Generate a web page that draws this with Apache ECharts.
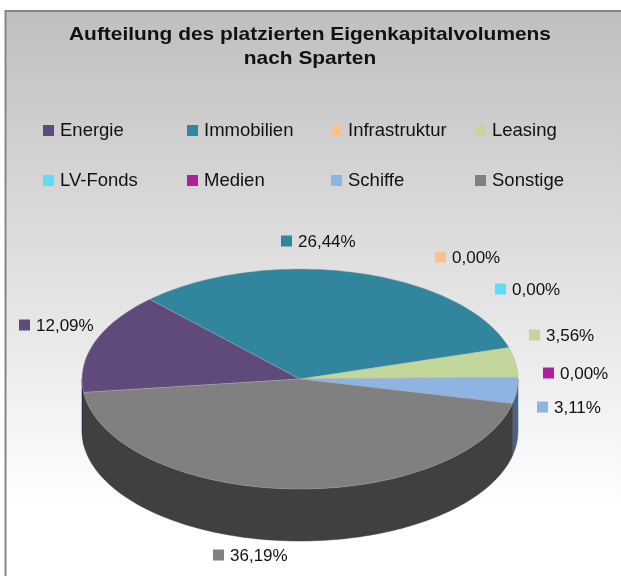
<!DOCTYPE html>
<html><head><meta charset="utf-8">
<style>html,body{margin:0;padding:0;background:#fff}#c{width:621px;height:576px}</style>
<script src="https://cdn.jsdelivr.net/npm/echarts@6/dist/echarts.min.js"></script>
</head><body><div id="c"></div>
<script>
const titleText = 'Aufteilung des platzierten Eigenkapitalvolumens\nnach Sparten';
const categories = ['Energie','Immobilien','Infrastruktur','Leasing','LV-Fonds','Medien','Schiffe','Sonstige'];
const values = [12.09,26.44,0,3.56,0,0,3.11,36.19];
const colors = ['#604A7B','#31859C','#FCC08C','#C3D69B','#5FDCFC','#B01F9C','#8DB4E2','#808080'];
const wallColors = ['#33264A','#1F5663','#9A7552','#7A8760','#3A8BA0','#6E1462','#4A6283','#404040'];
const labelAnchors = [[19,326],[281,242],[435,258],[529,336],[495,290],[543,374],[537,408],[213,556]];
const legendAnchors = [[43,129],[187,129],[331,129],[475,129],[43,179],[187,179],[331,179],[475,179]];
const startAngle = 263; // degrees clockwise from 12 o'clock
const cx = 300, cy = 379, rx = 218, ry = 110, depth = 52;

const total = values.reduce((a,b)=>a+b,0);
const fmt = v => v.toFixed(2).replace('.',',') + '%';
function pt(deg, dy){ const a = deg*Math.PI/180; return [cx+rx*Math.sin(a), cy-ry*Math.cos(a)+(dy||0)]; }
function arc(a0,a1,dy){ const n=Math.max(1,Math.ceil(Math.abs(a1-a0)/1.5)), out=[];
  for(let i=0;i<=n;i++) out.push(pt(a0+(a1-a0)*i/n,dy)); return out; }

let acc = startAngle;
const spans = values.map(v=>{ const s=acc; acc += v/total*360; return [s,acc]; });

function wallChildren(a0,a1,fill){
  const out=[];
  [[90,270],[450,630]].forEach(([lo,hi])=>{
    const s=Math.max(a0,lo), e=Math.min(a1,hi);
    if(e>s){
      const top=arc(s,e,0), bot=arc(e,s,depth);
      out.push({type:'polygon',shape:{points:top.concat(bot)},style:{fill,stroke:fill,lineWidth:.5}});
    }
  });
  return out;
}

const series = categories.map((name,i)=>({
  name, type:'custom', coordinateSystem:'none',
  itemStyle:{color:colors[i]},
  data:[[values[i]]],
  renderItem:(params,api)=>{
    const [a0,a1]=spans[i];
    const children = wallChildren(a0,a1,wallColors[i]);
    if(api.value(0)>0){
      children.push({type:'polygon',shape:{points:[[cx,cy]].concat(arc(a0,a1,0))},
        style:{fill:colors[i],stroke:'#a8a8a8',lineWidth:.4}});
    }
    const [lx,ly]=labelAnchors[i];
    children.push({type:'rect',z2:50,shape:{x:lx,y:ly-6.5,width:11,height:11},style:{fill:colors[i]}});
    children.push({type:'text',z2:50,x:lx+17,y:ly,style:{text:fmt(api.value(0)),fill:'#111',
      font:'17px "Liberation Sans", Arial, sans-serif',verticalAlign:'middle'}});
    return {type:'group',children};
  }
}));

const legends = categories.map((name,i)=>({
  data:[name], left:legendAnchors[i][0], top:legendAnchors[i][1]-8, orient:'horizontal', padding:0,
  itemWidth:11, itemHeight:11, icon:'rect', selectedMode:false,
  textStyle:{fontFamily:'"Liberation Sans", Arial, sans-serif',fontSize:18.5,color:'#111',padding:[2,0,0,1]}
}));

const chart = echarts.init(document.getElementById('c'),null,{renderer:'canvas'});
chart.setOption({
  animation:false,
  legend:legends,
  graphic:[
   {type:'rect',z:-10,silent:true,shape:{x:5.5,y:11,width:640,height:600},
    style:{stroke:'#858585',lineWidth:2,fill:{type:'linear',x:0,y:0,x2:0,y2:1,colorStops:[{offset:0,color:'#bfbfbf'},{offset:0.83,color:'#ffffff'}]}}},
   {type:'text',z:10,silent:true,x:310,y:47,scaleX:1.1,
    style:{text:titleText,fill:'#111',font:'bold 19px "Liberation Sans", Arial, sans-serif',align:'center',verticalAlign:'middle',lineHeight:24}}
  ],
  series
});
</script></body></html>
